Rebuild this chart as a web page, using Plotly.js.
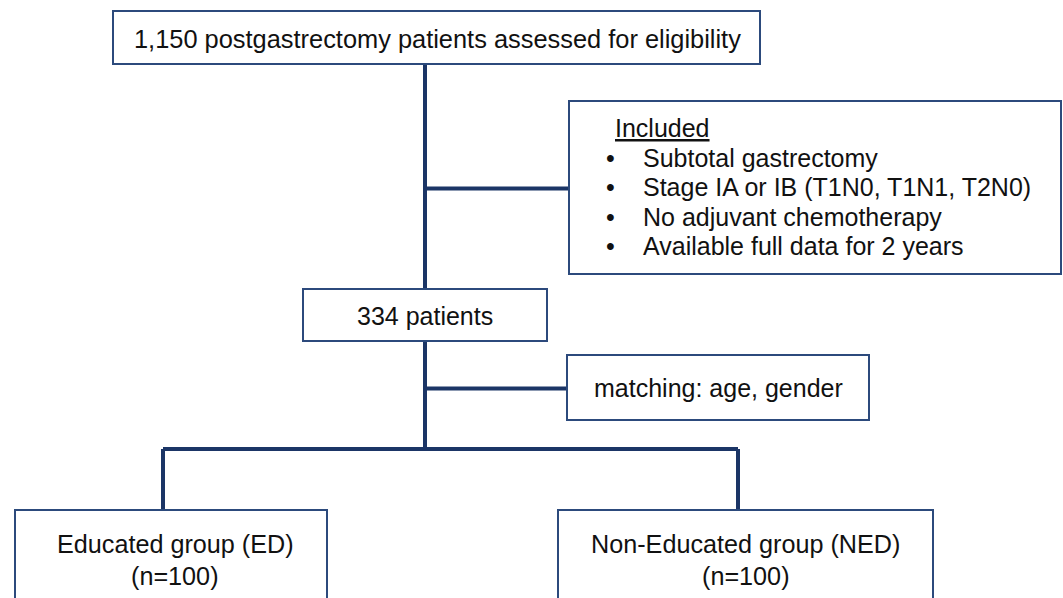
<!DOCTYPE html>
<html>
<head>
<meta charset="utf-8">
<script src="https://cdn.plot.ly/plotly-3.0.1.min.js"></script>
<style>
  html, body { margin: 0; padding: 0; background: #ffffff; }
  #chart { width: 1063px; height: 598px; }
</style>
</head>
<body>
<div id="chart"></div>
<script>
// ---- Content (data) ----
const assessedCount = "1,150";
const assessedLabel = "postgastrectomy patients assessed for eligibility";
const includedHeader = "Included";
const includedCriteria = [
  "Subtotal gastrectomy",
  "Stage IA or IB (T1N0, T1N1, T2N0)",
  "No adjuvant chemotherapy",
  "Available full data for 2 years"
];
const matchedCount = 334;
const matchingVars = ["age", "gender"];
const groupNames = ["Educated group (ED)", "Non-Educated group (NED)"];
const groupSizes = [100, 100];

// ---- Layout geometry (pixel space of the 1063x598 canvas) ----
const W = 1063, H = 598;
const boxTop     = {x0: 113, x1: 760, y0: 11, y1: 64};
const boxIncl    = {x0: 569, x1: 1061, y0: 101, y1: 274};
const boxMatched = {x0: 303, x1: 547, y0: 289, y1: 341};
const boxMatch   = {x0: 567, x1: 869, y0: 355, y1: 420};
const boxGroups  = [{x0: 15, x1: 327, y0: 510, y1: 606}, {x0: 558, x1: 933, y0: 510, y1: 606}];
const trunkX = 425;
const splitY = 449;

const lineColor = "#1b3566";
const boxColor = "#2c4a7c";
const textColor = "#111111";
const FONT = "Liberation Sans, Arial, Helvetica, sans-serif";
const FS = 25;

const shapes = [];
function connector(x0, y0, x1, y1) {
  shapes.push({type: "line", xref: "x", yref: "y", x0, y0, x1, y1,
    line: {color: lineColor, width: 4}, layer: "below"});
}
function box(b) {
  shapes.push({type: "rect", xref: "x", yref: "y", x0: b.x0, y0: b.y0, x1: b.x1, y1: b.y1,
    line: {color: boxColor, width: 2}, fillcolor: "#ffffff", layer: "above"});
}

// connectors
connector(trunkX, boxTop.y1, trunkX, boxMatched.y0);
connector(trunkX, (boxIncl.y0 + boxIncl.y1) / 2 + 1, boxIncl.x0, (boxIncl.y0 + boxIncl.y1) / 2 + 1);
connector(trunkX, boxMatched.y1, trunkX, splitY);
connector(trunkX, (boxMatch.y0 + boxMatch.y1) / 2 + 1, boxMatch.x0, (boxMatch.y0 + boxMatch.y1) / 2 + 1);
const gx = [163, 738];
connector(gx[0], splitY, gx[1], splitY);
connector(gx[0], splitY, gx[0], boxGroups[0].y0);
connector(gx[1], splitY, gx[1], boxGroups[1].y0);

// boxes
[boxTop, boxIncl, boxMatched, boxMatch, boxGroups[0], boxGroups[1]].forEach(box);

const annotations = [];
function txt(x, y, text, xanchor, size) {
  annotations.push({x, y, xref: "x", yref: "y", text, showarrow: false,
    xanchor: xanchor || "center", yanchor: "middle",
    font: {family: FONT, size: size || FS, color: textColor}});
}

txt(437, 39, assessedCount + " " + assessedLabel, "center", 25.4);

// included box
txt(613, 128, "<u>" + includedHeader + "</u>", "left");
const inclY0 = 158, inclStep = 29.3;
includedCriteria.forEach((c, i) => {
  txt(610, inclY0 + i * inclStep, "•", "center");
  txt(641, inclY0 + i * inclStep, c, "left");
});

txt((boxMatched.x0 + boxMatched.x1) / 2, 316, matchedCount + " patients");
txt((boxMatch.x0 + boxMatch.x1) / 2, 388, "matching: " + matchingVars.join(", "));

groupNames.forEach((g, i) => {
  const cx = i === 0 ? 175 : (boxGroups[i].x0 + boxGroups[i].x1) / 2;
  txt(cx, 544, g, "center", 25.2);
  txt(cx, 576, "(n=" + groupSizes[i] + ")", "center", 25.2);
});

const layout = {
  width: W, height: H,
  margin: {l: 0, r: 0, t: 0, b: 0, pad: 0},
  paper_bgcolor: "#ffffff", plot_bgcolor: "#ffffff",
  xaxis: {range: [0, W], visible: false, fixedrange: true},
  yaxis: {range: [H, 0], visible: false, fixedrange: true},
  showlegend: false,
  shapes, annotations
};

Plotly.newPlot("chart", [{x: [], y: [], type: "scatter", mode: "markers", hoverinfo: "skip"}], layout,
  {displayModeBar: false, staticPlot: true});
</script>
</body>
</html>
